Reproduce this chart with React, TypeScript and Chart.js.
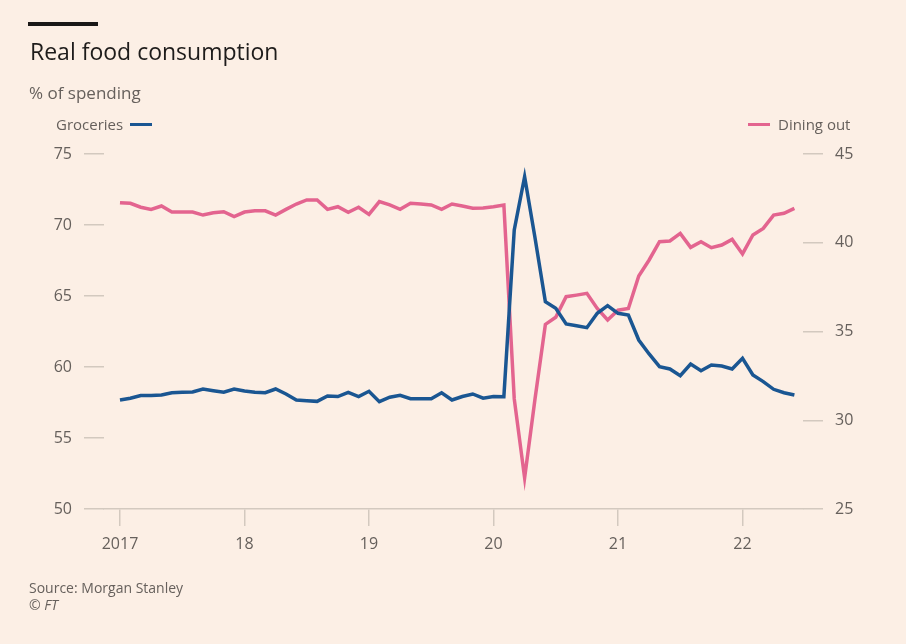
import React, { useEffect, useRef } from "react";
import { Chart, registerables } from "chart.js";

Chart.register(...registerables);

// Monthly data, Jan 2017 .. Jun 2022 (index 0 = Jan 2017)
const groceries: number[] = [
  57.68, 57.8, 57.99, 58.0, 58.03, 58.19, 58.22, 58.24, 58.45, 58.33, 58.22, 58.45,
  58.31, 58.22, 58.19, 58.45, 58.1, 57.68, 57.63, 57.58, 57.96, 57.92, 58.22, 57.92,
  58.29, 57.56, 57.87, 58.0, 57.77, 57.77, 57.77, 58.19, 57.68, 57.92, 58.1, 57.8,
  57.92, 57.91, 69.65, 73.4, 69.1, 64.6, 64.13, 63.03, 62.91, 62.77, 63.78, 64.32,
  63.78, 63.66, 61.9, 60.92, 60.02, 59.86, 59.39, 60.21, 59.74, 60.14, 60.07, 59.86,
  60.61, 59.44, 58.97, 58.43, 58.19, 58.03,
];

const diningOut: number[] = [
  42.26, 42.22, 42.0, 41.88, 42.07, 41.73, 41.73, 41.73, 41.56, 41.69, 41.75, 41.47,
  41.73, 41.8, 41.8, 41.56, 41.88, 42.18, 42.41, 42.41, 41.88, 42.03, 41.71, 42.0,
  41.6, 42.32, 42.13, 41.88, 42.22, 42.18, 42.13, 41.88, 42.18, 42.07, 41.94, 41.96,
  42.03, 42.13, 31.2, 26.75, 31.2, 35.4, 35.8, 36.96, 37.05, 37.15, 36.3, 35.65,
  36.2, 36.3, 38.13, 39.03, 40.06, 40.1, 40.53, 39.74, 40.06, 39.72, 39.87, 40.19,
  39.37, 40.44, 40.81, 41.56, 41.66, 41.94,
];

const yearTickMonths: number[] = [0, 12, 24, 36, 48, 60];
const yearTickLabels: string[] = ["2017", "18", "19", "20", "21", "22"];

const leftAxisRange: number[] = [50, 75];
const rightAxisRange: number[] = [25, 45];

const BG = "#fcefe5";
const BLUE = "#1a5692";
const PINK = "#e3648f";
const GREY = "#66605c";
const TICK = "#d3c9bf";
const FONT = "'Open Sans', sans-serif";

export default function App() {
  const canvasRef = useRef<HTMLCanvasElement | null>(null);

  useEffect(() => {
    const canvas = canvasRef.current;
    if (!canvas) return;
    const chart = new Chart(canvas, {
      type: "line",
      data: {
        datasets: [
          {
            label: "Groceries",
            data: groceries.map((v, i) => ({ x: i, y: v })),
            yAxisID: "y",
            borderColor: BLUE,
            borderWidth: 3.5,
            pointRadius: 0,
            tension: 0,
            borderJoinStyle: "miter",
            fill: false,
          },
          {
            label: "Dining out",
            data: diningOut.map((v, i) => ({ x: i, y: v })),
            yAxisID: "y1",
            borderColor: PINK,
            borderWidth: 3.5,
            pointRadius: 0,
            tension: 0,
            borderJoinStyle: "miter",
            fill: false,
          },
        ],
      },
      options: {
        animation: false,
        responsive: false,
        maintainAspectRatio: false,
        layout: { padding: { top: 154, left: 0, right: 0, bottom: 0 } },
        plugins: {
          legend: { display: false },
          tooltip: { enabled: false },
        },
        scales: {
          x: {
            type: "linear",
            min: -1.54,
            max: 65.83,
            afterFit: (s: any) => {
              s.height = 135;
            },
            afterBuildTicks: (s: any) => {
              s.ticks = yearTickMonths.map((v) => ({ value: v }));
            },
            ticks: {
              autoSkip: false,
              maxRotation: 0,
              color: GREY,
              font: { family: FONT, size: 16 },
              padding: 9,
              callback: (v: any) => {
                const idx = yearTickMonths.indexOf(Number(v));
                return idx >= 0 ? yearTickLabels[idx] : "";
              },
            },
            grid: {
              drawOnChartArea: false,
              drawTicks: true,
              tickLength: 17,
              color: TICK,
              lineWidth: 1.5,
            },
            border: { display: true, color: TICK, width: 1.5 },
          },
          y: {
            type: "linear",
            position: "left",
            min: leftAxisRange[0],
            max: leftAxisRange[1],
            afterFit: (s: any) => {
              s.width = 104;
            },
            ticks: {
              stepSize: 5,
              color: GREY,
              font: { family: FONT, size: 16 },
              padding: 12,
            },
            grid: {
              drawOnChartArea: false,
              drawTicks: true,
              tickLength: 20,
              color: TICK,
              lineWidth: 1.5,
            },
            border: { display: false },
          },
          y1: {
            type: "linear",
            position: "right",
            min: rightAxisRange[0],
            max: rightAxisRange[1],
            afterFit: (s: any) => {
              s.width = 103;
            },
            ticks: {
              stepSize: 5,
              color: GREY,
              font: { family: FONT, size: 16 },
              padding: 12,
            },
            grid: {
              drawOnChartArea: false,
              drawTicks: true,
              tickLength: 20,
              color: TICK,
              lineWidth: 1.5,
            },
            border: { display: false },
          },
        },
      },
    });
    return () => chart.destroy();
  }, []);

  const abs = (extra: React.CSSProperties): React.CSSProperties => ({
    position: "absolute",
    whiteSpace: "nowrap",
    lineHeight: 1,
    margin: 0,
    ...extra,
  });

  return (
    <div
      style={{
        position: "fixed",
        left: 0,
        top: 0,
        width: 906,
        height: 644,
        background: BG,
        fontFamily: FONT,
        overflow: "hidden",
      }}
    >
      <canvas
        ref={canvasRef}
        width={906}
        height={644}
        style={{ position: "absolute", left: 0, top: 0, width: 906, height: 644 }}
      />
      <div style={abs({ left: 28, top: 22, width: 70, height: 4, background: "#1a1817" })} />
      <div style={abs({ left: 30, top: 40, fontSize: 23, color: "#1e1c1b" })}>
        Real food consumption
      </div>
      <div style={abs({ left: 29, top: 84, fontSize: 17, color: GREY })}>% of spending</div>
      <div style={abs({ left: 56, top: 116.7, fontSize: 15, color: GREY })}>Groceries</div>
      <div style={abs({ left: 130, top: 122.5, width: 22, height: 3, background: BLUE })} />
      <div style={abs({ left: 748, top: 122.5, width: 22, height: 3, background: PINK })} />
      <div style={abs({ left: 778, top: 116.7, fontSize: 15, color: GREY })}>Dining out</div>
      <div style={abs({ left: 29, top: 581, fontSize: 14, color: GREY })}>
        Source: Morgan Stanley
      </div>
      <div style={abs({ left: 29, top: 598, fontSize: 14, color: GREY })}>
        © <span style={{ fontStyle: "italic" }}>FT</span>
      </div>
    </div>
  );
}
